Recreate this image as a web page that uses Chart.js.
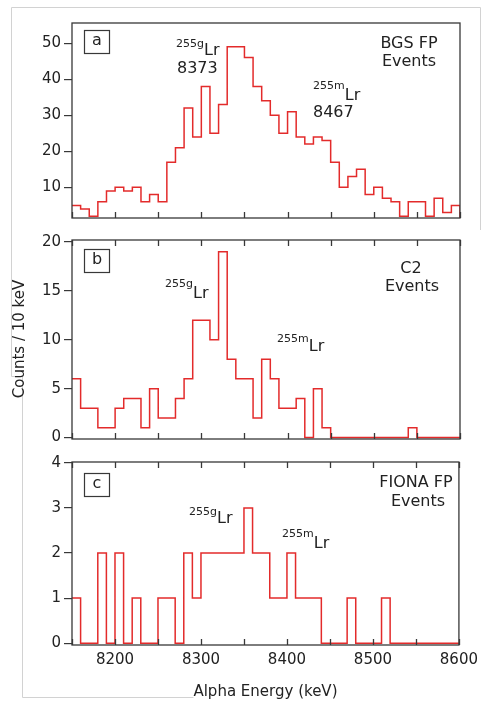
<!DOCTYPE html>
<html>
<head>
<meta charset="utf-8">
<script src="https://cdn.jsdelivr.net/npm/chart.js@4.4.1/dist/chart.umd.min.js"></script>
<style>
    html, body { margin: 0; padding: 0; background: #fff; }
    #wrap { position: relative; width: 484px; height: 702px; }
    #wrap canvas { position: absolute; left: 0; top: 0; }
</style>
</head>
<body>
<div id="wrap">
    <canvas id="panelA" width="484" height="702"></canvas>
    <canvas id="panelB" width="484" height="702"></canvas>
    <canvas id="panelC" width="484" height="702"></canvas>
</div>
<script>
// 10 keV bins from 8150 to 8600 keV
const binStart = 8150;
const binWidth = 10;

const bgsCounts = [
    5, 4, 2, 6, 9, 10, 9, 10, 6, 8,
    6, 17, 21, 32, 24, 38, 25, 33, 49, 49,
    46, 38, 34, 30, 25, 31, 24, 22, 24, 23,
    17, 10, 13, 15, 8, 10, 7, 6, 2, 6,
    6, 2, 7, 3, 5,
];
const c2Counts = [
    6, 3, 3, 1, 1, 3, 4, 4, 1, 5,
    2, 2, 4, 6, 12, 12, 10, 19, 8, 6,
    6, 2, 8, 6, 3, 3, 4, 0, 5, 1,
    0, 0, 0, 0, 0, 0, 0, 0, 0, 1,
    0, 0, 0, 0, 0,
];
const fionaCounts = [
    1, 0, 0, 2, 0, 2, 0, 1, 0, 0,
    1, 1, 0, 2, 1, 2, 2, 2, 2, 2,
    3, 2, 2, 1, 1, 2, 1, 1, 1, 0,
    0, 0, 1, 0, 0, 0, 1, 0, 0, 0,
    0, 0, 0, 0, 0,
];

const xTicks = [8150, 8200, 8250, 8300, 8350, 8400, 8450, 8500, 8550, 8600];
const xLabels = [8200, 8300, 8400, 8500, 8600];
const yTicksA = [10, 20, 30, 40, 50];
const yTicksB = [0, 5, 10, 15, 20];
const yTicksC = [0, 1, 2, 3, 4];

const FONT = 'DejaVu Sans';
const RED = '#e32b2b';
const INK = '#222';
const AXIS = '#383838';

Chart.defaults.font.family = FONT;
Chart.defaults.color = INK;

function stepPoints(counts) {
    const pts = counts.map((c, i) => ({ x: binStart + i * binWidth, y: c }));
    const end = binStart + counts.length * binWidth;
    pts.push({ x: end, y: counts[counts.length - 1] });
    pts.push({ x: end, y: 0 });
    return pts;
}

function drawIsotope(ctx, sup, main, x, ySup, yMain) {
    ctx.textAlign = 'left';
    ctx.textBaseline = 'alphabetic';
    ctx.font = '11px ' + FONT;
    ctx.fillText(sup, x, ySup);
    const w = ctx.measureText(sup).width;
    ctx.font = '16px ' + FONT;
    ctx.fillText(main, x + w, yMain);
}

const framePlugin = {
    id: 'frame',
    afterDraw(chart, args, opts) {
        const ctx = chart.ctx;
        const { left, top, right, bottom } = chart.chartArea;
        const xs = chart.scales.x;
        ctx.save();
        ctx.strokeStyle = AXIS;
        ctx.lineWidth = 1.3;
        ctx.strokeRect(left, top, right - left, bottom - top);
        ctx.beginPath();
        xTicks.forEach((v) => {
            const px = Math.round(xs.getPixelForValue(v)) + 0.5;
            ctx.moveTo(px, bottom);
            ctx.lineTo(px, bottom - 6);
            if (opts.topTicks) {
                ctx.moveTo(px, top);
                ctx.lineTo(px, top + 6);
            }
        });
        ctx.stroke();

        // panel letter box
        const b = opts.box;
        ctx.lineWidth = 1.2;
        ctx.strokeRect(b.x + 0.5, b.y + 0.5, 25, 23);
        ctx.fillStyle = INK;
        ctx.font = '16px ' + FONT;
        ctx.textAlign = 'center';
        ctx.textBaseline = 'middle';
        ctx.fillText(b.letter, b.x + 13, b.y + 11);

        // isotope annotations
        (opts.isotopes || []).forEach((t) => {
            drawIsotope(ctx, t.sup, 'Lr', t.x, t.ySup, t.yMain);
        });
        ctx.font = '16px ' + FONT;
        ctx.textBaseline = 'alphabetic';
        (opts.texts || []).forEach((t) => {
            ctx.textAlign = t.align || 'left';
            ctx.fillText(t.text, t.x, t.y);
        });

        if (opts.yTitle) {
            ctx.save();
            ctx.translate(20, 339);
            ctx.rotate(-Math.PI / 2);
            ctx.textAlign = 'center';
            ctx.textBaseline = 'middle';
            ctx.font = '15px ' + FONT;
            ctx.fillText(opts.yTitle, 0, 0);
            ctx.restore();
        }

        if (opts.outline) {
            ctx.strokeStyle = '#d2d2d2';
            ctx.lineWidth = 1;
            ctx.beginPath();
            ctx.moveTo(480.5, 230);
            ctx.lineTo(480.5, 7.5);
            ctx.lineTo(11.5, 7.5);
            ctx.lineTo(11.5, 376.5);
            ctx.lineTo(22.5, 376.5);
            ctx.lineTo(22.5, 697.5);
            ctx.lineTo(193.5, 697.5);
            ctx.stroke();
        }
        ctx.restore();
    },
};

function makePanel(id, counts, cfg) {
    return new Chart(document.getElementById(id), {
        type: 'line',
        data: {
            datasets: [
                {
                    data: stepPoints(counts),
                    stepped: 'before',
                    borderColor: RED,
                    borderWidth: 1.5,
                    pointRadius: 0,
                    fill: false,
                },
            ],
        },
        options: {
            responsive: false,
            animation: false,
            events: [],
            layout: { padding: cfg.padding },
            plugins: {
                legend: { display: false },
                tooltip: { enabled: false },
                frame: cfg.frame,
            },
            scales: {
                x: {
                    type: 'linear',
                    min: 8150,
                    max: 8600,
                    display: cfg.showX,
                    afterBuildTicks: (s) => { s.ticks = xTicks.map((v) => ({ value: v })); },
                    afterFit: (s) => { if (cfg.showX) s.height = 57; },
                    grid: { display: false, drawTicks: false },
                    border: { display: false },
                    ticks: {
                        autoSkip: false,
                        maxRotation: 0,
                        padding: 6,
                        color: INK,
                        font: { size: 15 },
                        callback: (v) => (xLabels.includes(v) ? String(v) : ''),
                    },
                    title: {
                        display: true,
                        text: 'Alpha Energy (keV)',
                        color: INK,
                        font: { size: 15 },
                        padding: { top: 0, bottom: 1 },
                    },
                },
                y: {
                    type: 'linear',
                    min: cfg.yMin,
                    max: cfg.yMax,
                    afterBuildTicks: (s) => { s.ticks = cfg.yTicks.map((v) => ({ value: v })); },
                    afterFit: (s) => { s.width = 72; },
                    grid: { drawOnChartArea: false, drawTicks: true, tickLength: 8, color: AXIS, lineWidth: 1.2 },
                    border: { display: false },
                    ticks: { padding: 3, color: INK, font: { size: 15 } },
                },
            },
        },
        plugins: [framePlugin],
    });
}

makePanel('panelA', bgsCounts, {
    padding: { left: 0, top: 23, right: 24, bottom: 484 },
    yMin: 1.5,
    yMax: 55.6,
    yTicks: yTicksA,
    showX: false,
    frame: {
        topTicks: false,
        outline: true,
        box: { letter: 'a', x: 84, y: 30 },
        isotopes: [
            { sup: '255g', x: 176, ySup: 47, yMain: 55 },
            { sup: '255m', x: 313, ySup: 89, yMain: 100 },
        ],
        texts: [
            { text: '8373', x: 177, y: 73 },
            { text: '8467', x: 313, y: 117 },
            { text: 'BGS FP', x: 409, y: 48, align: 'center' },
            { text: 'Events', x: 409, y: 66, align: 'center' },
        ],
    },
});

makePanel('panelB', c2Counts, {
    padding: { left: 0, top: 240, right: 24, bottom: 263 },
    yMin: -0.15,
    yMax: 20.2,
    yTicks: yTicksB,
    showX: false,
    frame: {
        topTicks: true,
        yTitle: 'Counts / 10 keV',
        box: { letter: 'b', x: 84, y: 249 },
        isotopes: [
            { sup: '255g', x: 165, ySup: 287, yMain: 298 },
            { sup: '255m', x: 277, ySup: 342, yMain: 351 },
        ],
        texts: [
            { text: 'C2', x: 411, y: 273, align: 'center' },
            { text: 'Events', x: 412, y: 291, align: 'center' },
        ],
    },
});

makePanel('panelC', fionaCounts, {
    padding: { left: 0, top: 462, right: 24, bottom: 0 },
    yMin: -0.04,
    yMax: 4.02,
    yTicks: yTicksC,
    showX: true,
    frame: {
        topTicks: true,
        box: { letter: 'c', x: 84, y: 473 },
        isotopes: [
            { sup: '255g', x: 189, ySup: 515, yMain: 523 },
            { sup: '255m', x: 282, ySup: 537, yMain: 548 },
        ],
        texts: [
            { text: 'FIONA FP', x: 416, y: 487, align: 'center' },
            { text: 'Events', x: 418, y: 506, align: 'center' },
        ],
    },
});
</script>
</body>
</html>
